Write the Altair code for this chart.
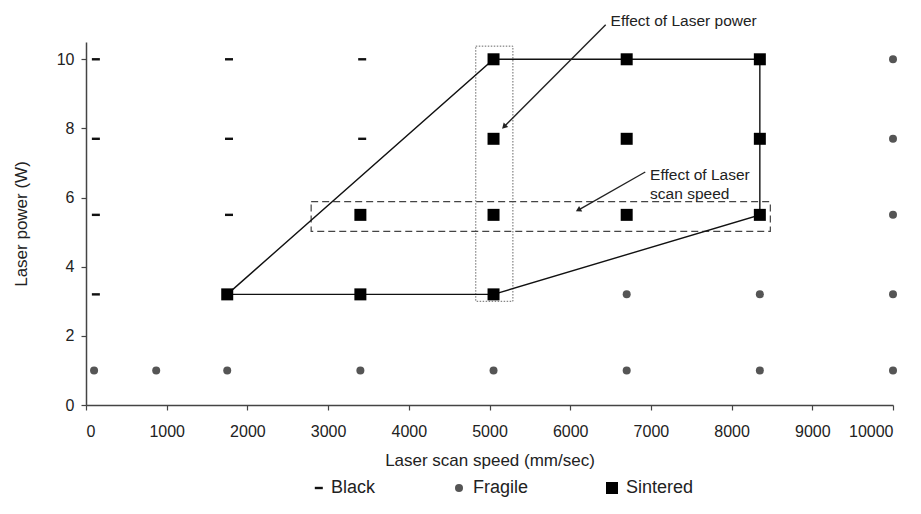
import math
import altair as alt
import pandas as pd

# ---------------- data ----------------
black_x = [100, 100, 100, 100, 1750, 1750, 1750, 3400, 3400]
black_y = [10, 7.7, 5.5, 3.2, 10, 7.7, 5.5, 10, 7.7]

fragile_x = [100, 870, 1750, 3400, 5050, 6700, 8350, 10000, 6700, 8350, 10000, 10000, 10000, 10000]
fragile_y = [1, 1, 1, 1, 1, 1, 1, 1, 3.2, 3.2, 3.2, 5.5, 7.7, 10]

sintered_x = [5050, 6700, 8350, 5050, 6700, 8350, 3400, 5050, 6700, 8350, 1750, 3400, 5050]
sintered_y = [10, 10, 10, 7.7, 7.7, 7.7, 5.5, 5.5, 5.5, 5.5, 3.2, 3.2, 3.2]

states = ["Black", "Fragile", "Sintered"]

poly_x = [1750, 5050, 8350, 8350, 5050, 1750]
poly_y = [3.2, 10, 10, 5.5, 3.2, 3.2]

# boxes: dotted (laser power) and dashed (scan speed)
box_power = dict(x=4830, x2=5290, y=3.0, y2=10.38)
box_speed = dict(x=2790, x2=8480, y=5.02, y2=5.88)

arrow_x = [6440, 6930]
arrow_y = [11.0, 6.74]
arrow_x2 = [5180, 6100]
arrow_y2 = [8.05, 5.64]

note_x = [6500, 6990]
note_y = [11.1, 6.66]
note_text = ["Effect of Laser power", "Effect of Laser\nscan speed"]

x_ticks = list(range(0, 10001, 1000))
y_ticks = [0, 2, 4, 6, 8, 10]

# ---------------- layout ----------------
W, H = 807, 363
XMAX, YMAX = 10000, 10.5
FONT = "Liberation Sans"
TXT = "#222222"

pts = pd.concat([
    pd.DataFrame({"speed": black_x, "power": black_y, "state": "Black"}),
    pd.DataFrame({"speed": fragile_x, "power": fragile_y, "state": "Fragile"}),
    pd.DataFrame({"speed": sintered_x, "power": sintered_y, "state": "Sintered"}),
], ignore_index=True)

poly = pd.DataFrame({"speed": poly_x, "power": poly_y, "order": list(range(len(poly_x)))})

px_x = W / XMAX
px_y = H / YMAX
angles = []
for a, b, c, d in zip(arrow_x, arrow_y, arrow_x2, arrow_y2):
    ang = math.degrees(math.atan2((c - a) * px_x, (d - b) * px_y)) % 360
    angles.append(ang)
arrows = pd.DataFrame({"x": arrow_x, "y": arrow_y, "x2": arrow_x2, "y2": arrow_y2, "ang": angles})
notes = pd.DataFrame({"x": note_x, "y": note_y, "t": note_text})

xs = alt.Scale(domain=[0, XMAX], nice=False, zero=True)
ys = alt.Scale(domain=[0, YMAX], nice=False, zero=True)

dash_path = "M-0.55,-0.3H1.45V0.3H-0.55Z"

x_enc = alt.X("speed:Q", scale=xs, title="Laser scan speed (mm/sec)",
              axis=alt.Axis(values=x_ticks, format="d"))
y_enc = alt.Y("power:Q", scale=ys, title="Laser power (W)",
              axis=alt.Axis(values=y_ticks, format="d"))

boundary = alt.Chart(poly).mark_line(color="#111111", strokeWidth=1.4).encode(
    x=x_enc, y=y_enc, order="order:Q"
)

rect_power = alt.Chart(pd.DataFrame([box_power])).mark_rect(
    fill=None, fillOpacity=0, stroke="#666666", strokeWidth=1, strokeDash=[1.5, 1.5]
).encode(x=alt.X("x:Q", scale=xs), x2="x2:Q", y=alt.Y("y:Q", scale=ys), y2="y2:Q")

rect_speed = alt.Chart(pd.DataFrame([box_speed])).mark_rect(
    fill=None, fillOpacity=0, stroke="#444444", strokeWidth=1.2, strokeDash=[7, 4]
).encode(x=alt.X("x:Q", scale=xs), x2="x2:Q", y=alt.Y("y:Q", scale=ys), y2="y2:Q")

points = alt.Chart(pts).mark_point(filled=True, opacity=1, strokeWidth=0).encode(
    x=x_enc, y=y_enc,
    shape=alt.Shape("state:N", scale=alt.Scale(domain=states, range=[dash_path, "circle", "square"]),
                    legend=alt.Legend(title=None)),
    color=alt.Color("state:N", scale=alt.Scale(domain=states, range=["#111111", "#555555", "#000000"]),
                    legend=alt.Legend(title=None)),
    size=alt.Size("state:N", scale=alt.Scale(type="ordinal", domain=states, range=[64, 64, 144]),
                  legend=alt.Legend(title=None)),
)

arrow_lines = alt.Chart(arrows).mark_rule(color="#222222", strokeWidth=1.4).encode(
    x=alt.X("x:Q", scale=xs), y=alt.Y("y:Q", scale=ys), x2="x2:Q", y2="y2:Q"
)
arrow_heads = alt.Chart(arrows).mark_point(
    shape="triangle-up", filled=True, color="#222222", size=40, opacity=1, strokeWidth=0
).encode(x=alt.X("x2:Q", scale=xs), y=alt.Y("y2:Q", scale=ys), angle=alt.Angle("ang:Q", scale=None))

note_marks = alt.Chart(notes).mark_text(
    align="left", baseline="middle", font=FONT, fontSize=15.5, color=TXT, lineBreak="\n", lineHeight=19
).encode(x=alt.X("x:Q", scale=xs), y=alt.Y("y:Q", scale=ys), text="t:N")

chart = alt.layer(
    rect_power, rect_speed, boundary, points, arrow_lines, arrow_heads, note_marks
).properties(
    width=W, height=H,
    autosize=alt.AutoSizeParams(type="none"),
    padding={"left": 78, "top": 34, "right": 12, "bottom": 100},
).configure_view(stroke=None).configure_axis(
    grid=False, domainColor="#444444", domainWidth=1.5, tickColor="#444444", tickWidth=1.2,
    tickSize=5, labelFont=FONT, labelFontSize=16, labelColor=TXT, titleFont=FONT,
    titleFontSize=17, titleFontWeight="normal", titleColor=TXT,
).configure_axisX(labelPadding=13, titlePadding=13).configure_axisY(labelPadding=7, titlePadding=26).configure_legend(
    orient="none", legendX=222, legendY=437, direction="horizontal", columnPadding=74,
    labelFont=FONT, labelFontSize=18, labelColor=TXT, labelOffset=5, symbolStrokeWidth=0,
)

chart.save("out.html", embed_options={"renderer": "svg", "actions": False})
